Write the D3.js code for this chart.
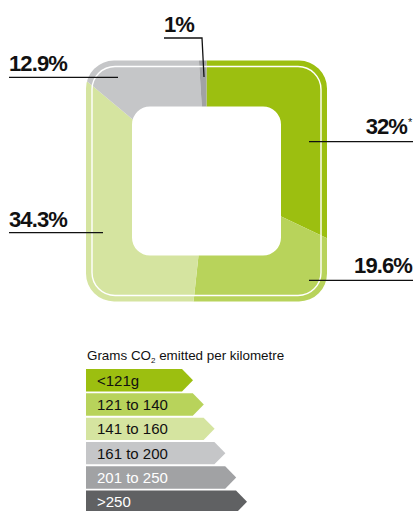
<!DOCTYPE html>
<html><head><meta charset="utf-8">
<script src="https://cdn.jsdelivr.net/npm/d3@7"></script>
<style>body{margin:0;background:#fff}svg{display:block}</style>
</head><body>
<script>
// Share of new cars by CO2 band
const bands = ["<121g", "121 to 140", "141 to 160", "161 to 200", "201 to 250", ">250"];
const shares = [32, 19.6, 34.3, 12.9, 1];
const shareLabels = ["32%", "19.6%", "34.3%", "12.9%", "1%"];
const bandColors = ["#9cbf10", "#b8d35b", "#d5e4a0", "#c5c6c8", "#a1a2a4", "#606163"];
const bandTextColors = ["#111", "#111", "#111", "#111", "#fff", "#fff"];

const W = 413, H = 511;
const svg = d3.select("body").append("svg").attr("width", W).attr("height", H);

const cx = 206.5, cy = 181;
const outerHalf = 120.5, outerR = 28;
const innerHalf = 74.5, innerR = 18;
const lineHalf = 114.5, lineR = 23;

function roundedSquare(p, half, r) {
  const x0 = cx - half, x1 = cx + half, y0 = cy - half, y1 = cy + half;
  p.moveTo(x0 + r, y0);
  p.arcTo(x1, y0, x1, y1, r);
  p.arcTo(x1, y1, x0, y1, r);
  p.arcTo(x0, y1, x0, y0, r);
  p.arcTo(x0, y0, x1, y0, r);
  p.closePath();
  return p;
}

// ring shaped clip: outer rounded square minus the hole
const ring = d3.path();
roundedSquare(ring, outerHalf, outerR);
roundedSquare(ring, innerHalf, innerR);
svg.append("defs").append("clipPath").attr("id", "ring")
  .append("path").attr("d", ring.toString()).attr("clip-rule", "evenodd");

const pie = d3.pie().sort(null).startAngle(0).endAngle(2 * Math.PI);
const arc = d3.arc().innerRadius(0).outerRadius(260);

svg.append("g").attr("clip-path", "url(#ring)")
  .append("g").attr("transform", `translate(${cx},${cy})`)
  .selectAll("path").data(pie(shares)).join("path")
  .attr("d", arc)
  .attr("fill", (d, i) => bandColors[i]);

// thin white outline inside the ring
svg.append("path")
  .attr("d", roundedSquare(d3.path(), lineHalf, lineR).toString())
  .attr("fill", "none").attr("stroke", "#fff").attr("stroke-width", 1.4);

// value labels with leader lines
const labelFont = "'Liberation Sans', Arial, sans-serif";
const annotations = [
  { i: 0, x: 407, y: 134, anchor: "end", line: [[309, 141.7], [413, 141.7]], star: true },
  { i: 1, x: 412, y: 273, anchor: "end", line: [[309, 280.3], [413, 280.3]] },
  { i: 2, x: 9, y: 227, anchor: "start", line: [[9, 232.7], [103, 232.7]] },
  { i: 3, x: 9, y: 71, anchor: "start", line: [[9, 77.3], [118, 77.3]] },
  { i: 4, x: 164, y: 32, anchor: "start", line: [[164, 38], [202, 38], [204, 77]] }
];
const ann = svg.append("g");
annotations.forEach(a => {
  ann.append("path").attr("d", d3.line()(a.line))
    .attr("fill", "none").attr("stroke", "#111").attr("stroke-width", 1.3);
  ann.append("text").attr("x", a.x).attr("y", a.y)
    .attr("text-anchor", a.anchor)
    .attr("font-family", labelFont).attr("font-weight", "bold")
    .attr("font-size", 22).attr("letter-spacing", -0.9).attr("fill", "#111")
    .text(shareLabels[a.i]);
  if (a.star) {
    ann.append("text").attr("x", a.x + 1).attr("y", a.y - 8)
      .attr("font-family", labelFont).attr("font-size", 11).attr("fill", "#111").text("*");
  }
});

// legend
const lg = svg.append("g");
lg.append("text").attr("x", 87).attr("y", 360)
  .attr("font-family", labelFont).attr("font-size", 13.4).attr("fill", "#111")
  .call(t => {
    t.append("tspan").text("Grams CO");
    t.append("tspan").attr("font-size", 8).attr("dy", 3).text("2");
    t.append("tspan").attr("dy", -3).text(" emitted per kilometre");
  });

const yBand = d3.scaleBand().domain(bands).range([369, 513]).paddingInner(0.08).paddingOuter(0);
const tipX = d3.scaleLinear().domain([0, bands.length - 1]).range([193, 247]);
const x0 = 86, tipLen = 11;

const rows = lg.selectAll("g.row").data(bands).join("g").attr("class", "row");
rows.append("path")
  .attr("d", (b, i) => {
    const y0 = yBand(b), h = yBand.bandwidth(), t = tipX(i);
    return d3.line()([[x0, y0], [t - tipLen, y0], [t, y0 + h / 2], [t - tipLen, y0 + h], [x0, y0 + h]]) + "Z";
  })
  .attr("fill", (b, i) => bandColors[i]);
rows.append("text")
  .attr("x", 97).attr("y", b => yBand(b) + yBand.bandwidth() / 2 + 5.5)
  .attr("font-family", labelFont).attr("font-size", 15)
  .attr("fill", (b, i) => bandTextColors[i])
  .text(b => b);
</script>
</body></html>
